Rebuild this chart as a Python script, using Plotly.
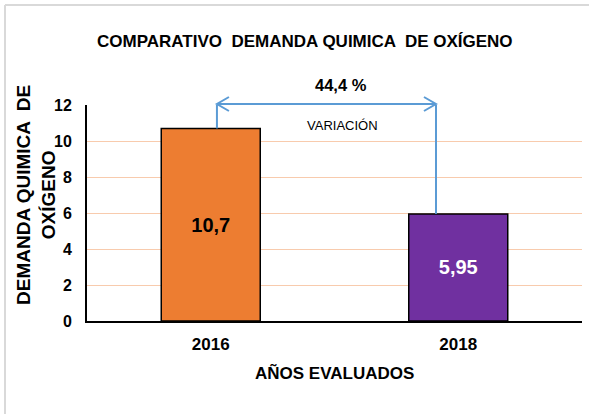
import plotly.graph_objects as go

# ---- data ----
years = ["2016", "2018"]
values = [10.7, 5.95]
value_labels = ["10,7", "5,95"]
bar_colors = ["#ED7D31", "#7030A0"]
label_colors = ["#000000", "#FFFFFF"]
variation_text = "44,4 %"
title_text = "COMPARATIVO  DEMANDA QUIMICA  DE OXÍGENO"
ytitle_text = "DEMANDA QUIMICA  DE<br>OXÍGENO"
xtitle_text = "AÑOS EVALUADOS"
y_ticks = [0, 2, 4, 6, 8, 10, 12]

W, H = 589, 414
L, R, T, B = 87, 7, 105, 93
PW, PH = W - L - R, H - T - B
FONT = "Liberation Sans, Arial"


def px(xp):
    return (xp - L) / PW


def py(yp):
    return (H - B - yp) / PH


xpos = list(range(len(years)))

fig = go.Figure()
fig.add_trace(go.Bar(
    x=xpos, y=values, width=0.4,
    marker=dict(color=bar_colors, line=dict(color="#000000", width=1.5)),
    text=value_labels, textposition="inside", insidetextanchor="middle",
    textfont=dict(family=FONT, size=20, color=label_colors, weight="bold"),
    textangle=0,
))

arrow_color = "#5B9BD5"
xa, xb = 0.025, 0.91
shapes = [
    dict(type="line", xref="x", yref="y", x0=xa, x1=xa, y0=values[0], y1=12,
         line=dict(color=arrow_color, width=2)),
    dict(type="line", xref="x", yref="y", x0=xb, x1=xb, y0=values[1], y1=12,
         line=dict(color=arrow_color, width=2)),
    dict(type="line", xref="x", yref="paper", x0=xa, x1=xb, y0=py(104), y1=py(104),
         line=dict(color=arrow_color, width=2)),
    dict(type="path", xref="x", yref="paper", xsizemode="pixel", ysizemode="pixel",
         xanchor=xa, yanchor=py(104), path="M 12 7 L 0 0 L 12 -7",
         line=dict(color=arrow_color, width=2)),
    dict(type="path", xref="x", yref="paper", xsizemode="pixel", ysizemode="pixel",
         xanchor=xb, yanchor=py(104), path="M -12 7 L 0 0 L -12 -7",
         line=dict(color=arrow_color, width=2)),
    dict(type="line", xref="paper", yref="paper", x0=px(5), x1=px(600), y0=py(5), y1=py(5),
         line=dict(color="#D9D9D9", width=2)),
    dict(type="line", xref="paper", yref="paper", x0=px(5), x1=px(5), y0=py(5), y1=py(420),
         line=dict(color="#D9D9D9", width=2)),
]


def ann(text, x, y, size, bold=True, angle=0):
    return dict(text=text, xref="paper", yref="paper", x=px(x), y=py(y),
                xanchor="center", yanchor="middle", showarrow=False, textangle=angle,
                font=dict(family=FONT, size=size, color="#000",
                          weight="bold" if bold else "normal"))


annotations = [
    ann(title_text, 305, 42, 17),
    ann(variation_text, 341, 85, 16.5),
    ann("VARIACIÓN", 342, 125, 13, bold=False),
    ann(ytitle_text, 36, 195, 19, angle=-90),
    ann(xtitle_text, 334, 373, 17),
]

fig.update_layout(
    width=W, height=H,
    margin=dict(l=L, r=R, t=T, b=B),
    paper_bgcolor="white", plot_bgcolor="white",
    showlegend=False,
    shapes=shapes, annotations=annotations,
    xaxis=dict(range=[-0.5, 1.5], tickvals=xpos, ticktext=years,
               showgrid=False, zeroline=False, showline=True,
               linecolor="#000000", linewidth=2, ticks="",
               ticklabelstandoff=7,
               tickfont=dict(family=FONT, size=17, color="#000", weight="bold")),
    yaxis=dict(range=[0, 12], tickvals=y_ticks, showgrid=True,
               gridcolor="#F8CBAD", gridwidth=1, zeroline=False,
               showline=True, linecolor="#000000", linewidth=2, ticks="",
               ticklabelstandoff=10,
               tickfont=dict(family=FONT, size=16, color="#000", weight="bold")),
)

fig.write_html("out.html")
